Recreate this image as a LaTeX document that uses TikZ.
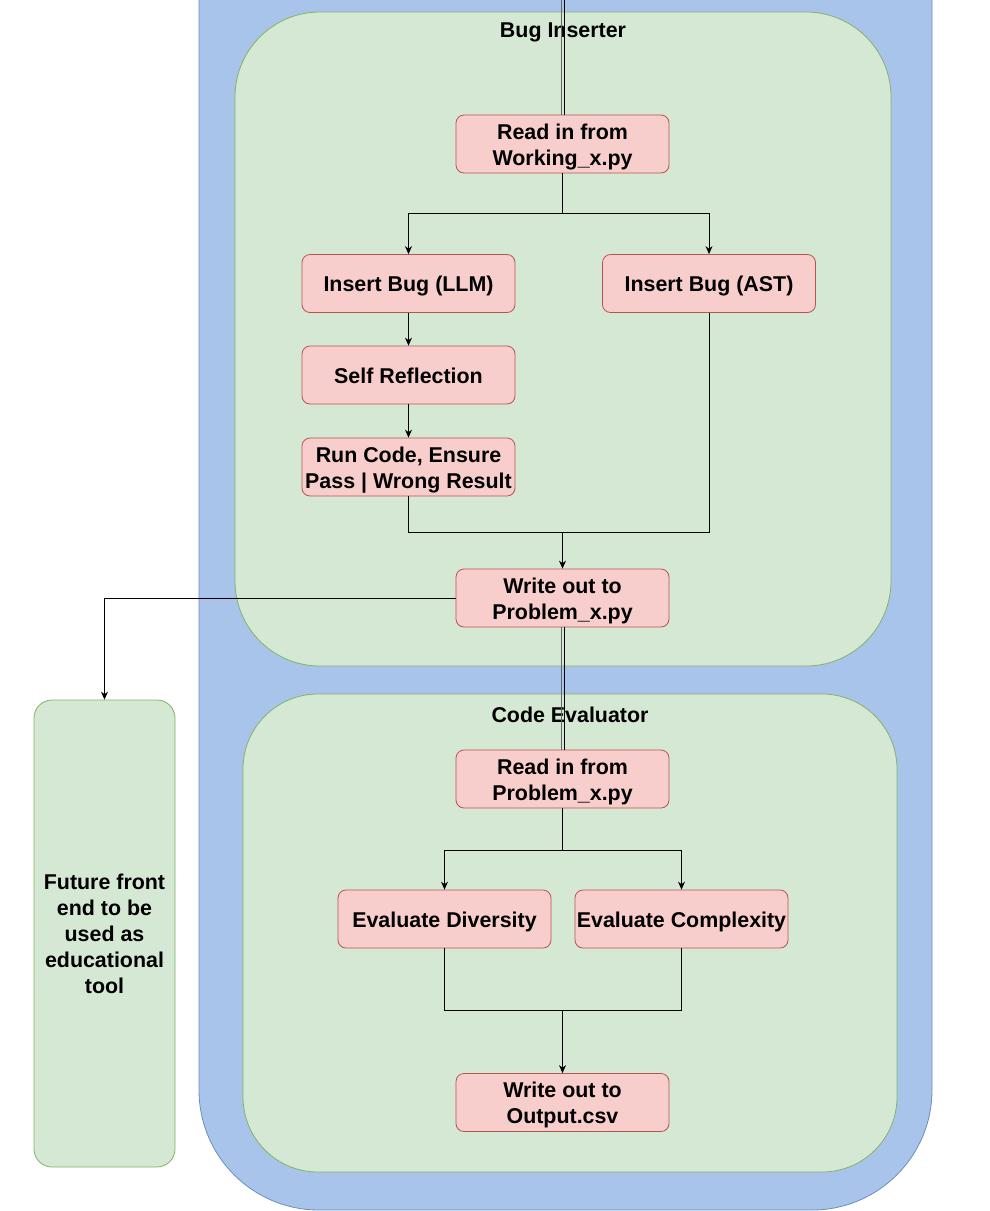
\documentclass[tikz,border=0pt]{standalone}
\usepackage{fontspec}
\setmainfont{Liberation Sans}
\usetikzlibrary{arrows.meta}
\definecolor{bluefill}{HTML}{A9C4EB}
\definecolor{bluedraw}{HTML}{6C8EBF}
\definecolor{greenfill}{HTML}{D5E8D4}
\definecolor{greendraw}{HTML}{82B366}
\definecolor{redfill}{HTML}{F8CECC}
\definecolor{reddraw}{HTML}{B85450}
% centred block of lines, set slightly below the box centre
\newcommand{\boxlines}[1]{\raisebox{-3pt}[\height][\depth]{\begin{tabular}{@{}c@{}}#1\end{tabular}}}
\begin{document}
\begin{tikzpicture}[x=1pt,y=-1pt,
  txt/.style={font=\fontsize{21.4}{26}\selectfont\bfseries, align=center, inner sep=0pt},
  stepbox/.style={txt, draw=reddraw, fill=redfill, rounded corners=8pt,
    minimum width=213pt, minimum height=58pt, line width=0.8pt},
  group/.style={draw=greendraw, fill=greenfill, line width=0.8pt},
  wire/.style={draw=black, line width=0.8pt},
  link/.style={wire, -{Stealth[length=8pt,width=7pt]}},
  twin/.style={draw=black, line width=0.8pt}
]
\clip (0,0) rectangle (989,1211);
\useasboundingbox (0,0) rectangle (989,1211);

% outer pipeline container
\draw[fill=bluefill, draw=bluedraw, line width=0.8pt, rounded corners=120pt]
  (199,-200) rectangle (932,1210);

% stage containers
\draw[group, rounded corners=85pt] (235,12) rectangle (891,666);
\draw[group, rounded corners=75pt] (243,694) rectangle (897,1172);
\node[group, txt, rounded corners=18pt, minimum width=141pt, minimum height=467pt]
  (fe) at (104.5,933.5) {Future front\\end to be\\used as\\educational\\tool};

\node[txt] (bititle) at (563,32) {Bug Inserter};
\node[txt] (cetitle) at (570,715) {Code Evaluator};

% steps
\node[stepbox] (rw)   at (562.5,144)   {\boxlines{Read in from\\Working\_x.py}};
\node[stepbox] (llm)  at (408.5,283.5) {\boxlines{Insert Bug (LLM)}};
\node[stepbox] (ast)  at (709,283.5)   {\boxlines{Insert Bug (AST)}};
\node[stepbox] (self) at (408.5,375)   {\boxlines{Self Reflection}};
\node[stepbox] (run)  at (408.5,467)   {\boxlines{Run Code, Ensure\\Pass | Wrong Result}};
\node[stepbox] (wp)   at (562.5,598)   {\boxlines{Write out to\\Problem\_x.py}};
\node[stepbox] (rp)   at (562.5,779)   {\boxlines{Read in from\\Problem\_x.py}};
\node[stepbox] (div)  at (444.5,919)   {\boxlines{Evaluate Diversity}};
\node[stepbox] (cmp)  at (681.5,919)   {\boxlines{Evaluate Complexity}};
\node[stepbox] (wo)   at (562.5,1102.5){\boxlines{Write out to\\Output.csv}};

% junction points
\coordinate (top) at (562.5,-10);
\coordinate (s1) at (562.5,213);
\coordinate (j1) at (562.5,532);
\coordinate (s2) at (562.5,850);
\coordinate (j2) at (562.5,1010);

% incoming feed into the bug inserter
\draw[twin, draw=black!60] ([xshift=-1.5pt]top) -- ([xshift=-1.5pt]rw.north);
\draw[twin] ([xshift=1.5pt]top) -- ([xshift=1.5pt]rw.north);

% bug inserter flow
\draw[link] (rw.south) -- (s1) -| (llm.north);
\draw[link] (s1) -| (ast.north);
\draw[link] (llm.south) -- (self.north);
\draw[link] (self.south) -- (run.north);
\draw[wire] (run.south) |- (j1);
\draw[wire] (ast.south) |- (j1);
\draw[link] (j1) -- (wp.north);

% output to the front end
\draw[link] (wp.west) -| (fe.north);

% hand-over to the evaluator
\draw[twin, draw=black!60] ([xshift=-1.5pt]wp.south) -- ([xshift=-1.5pt]rp.north);
\draw[twin] ([xshift=1.5pt]wp.south) -- ([xshift=1.5pt]rp.north);

% evaluator flow
\draw[link] (rp.south) -- (s2) -| (div.north);
\draw[link] (s2) -| (cmp.north);
\draw[wire] (div.south) |- (j2);
\draw[wire] (cmp.south) |- (j2);
\draw[link] (j2) -- (wo.north);
\end{tikzpicture}
\end{document}
